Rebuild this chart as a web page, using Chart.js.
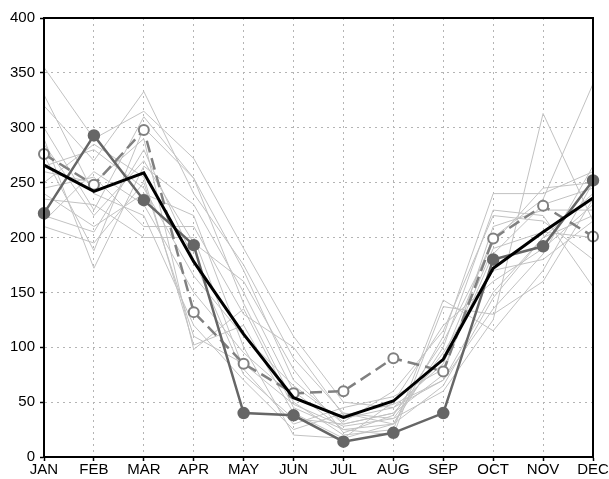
<!DOCTYPE html>
<html>
<head>
    <script src="https://cdn.jsdelivr.net/npm/chart.js@4"></script>
    <style>
        html, body { margin: 0; padding: 0; background: #fff; }
    </style>
</head>
<body>
    <canvas id="grafico" width="609" height="479"></canvas>

    <script>
        const mesi = ["JAN", "FEB", "MAR", "APR", "MAY", "JUN", "JUL", "AUG", "SEP", "OCT", "NOV", "DEC"];
        const tickY = [0, 50, 100, 150, 200, 250, 300, 350, 400];

        // media (linea nera)
        const media = [266, 242, 259, 178, 112, 54, 36, 51, 89, 172, 205, 236];
        // serie con cerchi pieni
        const pieni = [222, 293, 234, 193, 40, 38, 14, 22, 40, 180, 192, 252];
        // serie tratteggiata con cerchi vuoti
        const vuoti = [276, 248, 298, 132, 85, 58, 60, 90, 78, 199, 229, 201];

        // membri (linee grigie)
        const g1 = [355, 290, 315, 272, 190, 110, 50, 45, 70, 150, 200, 240];
        const g2 = [320, 270, 333, 240, 175, 90, 40, 35, 60, 125, 313, 215];
        const g3 = [300, 225, 310, 254, 170, 70, 30, 40, 90, 200, 235, 340];
        const g4 = [290, 172, 265, 230, 150, 60, 25, 30, 110, 240, 240, 260];
        const g5 = [275, 188, 300, 254, 140, 50, 20, 25, 143, 115, 170, 250];
        const g6 = [260, 250, 290, 98, 135, 45, 25, 20, 137, 130, 160, 235];
        const g7 = [250, 285, 255, 102, 120, 40, 17, 30, 100, 225, 220, 155];
        const g8 = [240, 210, 240, 220, 100, 20, 17, 50, 120, 160, 190, 230];
        const g9 = [235, 230, 200, 200, 80, 30, 45, 55, 80, 185, 230, 245];
        const g10 = [220, 205, 280, 180, 75, 35, 30, 40, 75, 210, 225, 225];
        const g11 = [215, 260, 230, 150, 95, 55, 35, 45, 85, 190, 205, 200];
        const g12 = [210, 195, 250, 110, 85, 48, 28, 35, 95, 170, 180, 215];
        const g13 = [330, 240, 220, 120, 70, 25, 40, 30, 65, 145, 200, 220];
        const g14 = [285, 220, 270, 195, 160, 80, 22, 38, 105, 195, 245, 250];
        const g15 = [265, 280, 245, 165, 110, 65, 32, 60, 115, 220, 215, 180];
        const g16 = [245, 255, 210, 210, 130, 100, 38, 48, 70, 135, 185, 265];
        const grigie = [g1, g2, g3, g4, g5, g6, g7, g8, g9, g10, g11, g12, g13, g14, g15, g16];

        let datasets = grigie.map(d => ({
            data: d,
            borderColor: '#c2c2c2',
            borderWidth: 1,
            pointRadius: 0,
            order: 10
        }));

        datasets.push({
            data: vuoti,
            borderColor: '#808080',
            borderWidth: 2.5,
            borderDash: [12, 6],
            pointRadius: 5,
            pointBackgroundColor: '#fff',
            pointBorderColor: '#808080',
            pointBorderWidth: 2,
            order: 2
        });
        datasets.push({
            data: pieni,
            borderColor: '#666',
            borderWidth: 2.5,
            pointRadius: 5,
            pointBackgroundColor: '#666',
            pointBorderColor: '#666',
            order: 1
        });
        datasets.push({
            data: media,
            borderColor: '#000',
            borderWidth: 3,
            pointRadius: 0,
            order: 0
        });

        // cornice nera intorno all'area del grafico
        const cornice = {
            id: 'cornice',
            afterDatasetsDraw(chart) {
                const a = chart.chartArea;
                const c = chart.ctx;
                c.save();
                c.strokeStyle = '#000';
                c.lineWidth = 2;
                c.strokeRect(a.left, a.top, a.right - a.left, a.bottom - a.top);
                c.restore();
            }
        };

        const font = { family: 'Liberation Sans', size: 15 };

        new Chart(document.getElementById('grafico'), {
            type: 'line',
            data: { labels: mesi, datasets: datasets },
            plugins: [cornice],
            options: {
                responsive: false,
                animation: false,
                layout: { padding: { top: 18, right: 16, left: 0, bottom: 0 } },
                plugins: { legend: { display: false }, tooltip: { enabled: false } },
                elements: { line: { tension: 0 } },
                scales: {
                    x: {
                        offset: false,
                        grid: { color: '#b4b4b4', lineWidth: 1, tickLength: 4, tickColor: '#000', tickWidth: 1.5 },
                        border: { display: true, color: '#000', width: 2, dash: [2, 4] },
                        ticks: { color: '#000', font: font, padding: 0, maxRotation: 0, autoSkip: false },
                        afterFit(s) { s.height = 22; }
                    },
                    y: {
                        min: 0,
                        max: 400,
                        afterBuildTicks(s) { s.ticks = tickY.map(v => ({ value: v })); },
                        grid: { color: '#b4b4b4', lineWidth: 1, tickLength: 4, tickColor: '#000', tickWidth: 1.5 },
                        border: { display: true, color: '#000', width: 2, dash: [2, 4] },
                        ticks: { color: '#000', font: font, padding: 5 },
                        afterFit(s) { s.width = 44; }
                    }
                }
            }
        });
    </script>
</body>
</html>
